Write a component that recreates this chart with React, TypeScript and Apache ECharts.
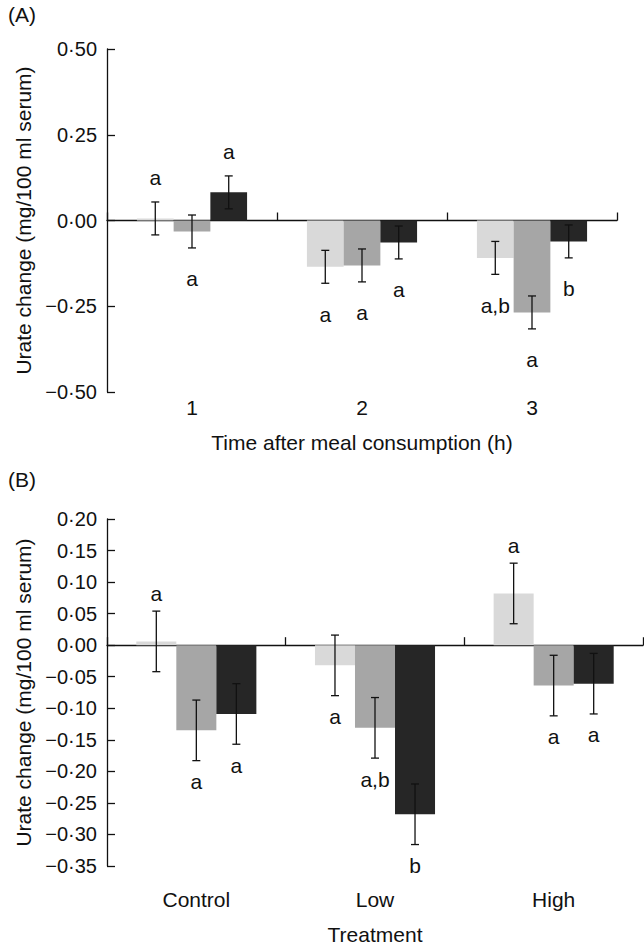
import React, { useEffect, useRef } from 'react';
import * as echarts from 'echarts';

// Categories
const timeCategories = ['1', '2', '3'];
const treatmentCategories = ['Control', 'Low', 'High'];

// Mean urate change (mg/100 ml serum) by time after meal (1 h, 2 h, 3 h)
const controlMeans = [0.006, -0.135, -0.109];
const lowMeans = [-0.032, -0.131, -0.268];
const highMeans = [0.082, -0.064, -0.061];

// Standard errors by time
const controlSem = [0.048, 0.048, 0.048];
const lowSem = [0.048, 0.048, 0.048];
const highSem = [0.048, 0.048, 0.048];

// Panel A significance letters (treatment series across time)
const lettersAControl = ['a', 'a', 'a,b'];
const lettersALow = ['a', 'a', 'a'];
const lettersAHigh = ['a', 'a', 'b'];

// Panel B significance letters (time series across treatments)
const lettersB1h = ['a', 'a', 'a'];
const lettersB2h = ['a', 'a,b', 'a'];
const lettersB3h = ['a', 'b', 'a'];

// Y axis ticks
const yTicksA = { min: -0.5, max: 0.5, interval: 0.25 };
const yTicksB = { min: -0.35, max: 0.2, interval: 0.05 };

const COLORS = ['#d9d9d9', '#a6a6a6', '#262626'];
const FONT = '"Liberation Sans", Arial, Helvetica, sans-serif';
const INK = '#111111';
const FS = 21;

function fmt(v: number) {
  const s = Math.abs(v).toFixed(2).replace('.', '\u00b7');
  return (v < -1e-9 ? '\u2212' : '') + s;
}

type Item = { cat: number; s: number; mean: number; err: number; letter: string };

function buildPanel(
  seriesMeans: number[][],
  seriesErr: number[][],
  seriesLetters: string[][],
  xZero: number,
  yIdx: number,
  barPct: number,
  offUp: number,
  offDown: number
) {
  const out: any[] = [];
  const items: Item[] = [];
  seriesMeans.forEach((m, s) => {
    out.push({
      type: 'bar',
      xAxisIndex: xZero,
      yAxisIndex: yIdx,
      data: m,
      barWidth: barPct + '%',
      barGap: '0%',
      itemStyle: { color: COLORS[s] },
      silent: true,
      z: 2,
    });
    m.forEach((v, c) => {
      items.push({ cat: c, s, mean: v, err: seriesErr[s][c], letter: seriesLetters[s][c] });
    });
  });
  out.push({
    type: 'custom',
    xAxisIndex: xZero,
    yAxisIndex: yIdx,
    silent: true,
    z: 5,
    encode: { x: 0, y: 1 },
    data: items.map((d) => [d.cat, d.mean]),
    renderItem: (params: any, api: any) => {
      const d = items[params.dataIndex];
      const band = api.size([1, 0])[0];
      const bw = (band * barPct) / 100;
      const cx = api.coord([d.cat, 0])[0] + (d.s - 1) * bw;
      const yTop = api.coord([d.cat, d.mean + d.err])[1];
      const yBot = api.coord([d.cat, d.mean - d.err])[1];
      const cap = 4;
      const ly = d.mean >= 0 ? yTop - offUp : yBot + offDown;
      const ls = { stroke: INK, lineWidth: 1.3 };
      return {
        type: 'group',
        children: [
          { type: 'line', shape: { x1: cx, y1: yTop, x2: cx, y2: yBot }, style: ls },
          { type: 'line', shape: { x1: cx - cap, y1: yTop, x2: cx + cap, y2: yTop }, style: ls },
          { type: 'line', shape: { x1: cx - cap, y1: yBot, x2: cx + cap, y2: yBot }, style: ls },
          {
            type: 'text',
            style: {
              text: d.letter,
              x: cx,
              y: ly,
              align: 'center',
              verticalAlign: 'middle',
              textAlign: 'center',
              textVerticalAlign: 'middle',
              fontSize: FS,
              fontFamily: FONT,
              fill: INK,
            },
          },
        ],
      };
    },
  });
  return out;
}

export default function App() {
  const ref = useRef<HTMLDivElement>(null);

  useEffect(() => {
    if (!ref.current) return;
    const chart = echarts.init(ref.current, undefined, { renderer: 'svg' });

    const axisLine = { lineStyle: { color: INK, width: 1.3 } };
    const zeroXAxis = (gridIndex: number, data: string[]) => ({
      type: 'category',
      gridIndex,
      data,
      position: 'bottom',
      axisLine: { show: true, onZero: true, ...axisLine },
      axisTick: { show: true, inside: true, length: 8, lineStyle: { color: INK, width: 1.3 } },
      axisLabel: { show: false },
      splitLine: { show: false },
    });
    const labelXAxis = (gridIndex: number, data: string[], name: string, margin: number, nameGap: number) => ({
      type: 'category',
      gridIndex,
      data,
      position: 'bottom',
      axisLine: { show: false, onZero: false },
      axisTick: { show: false },
      axisLabel: { show: true, margin, fontSize: FS, color: INK, fontFamily: FONT },
      name,
      nameLocation: 'middle',
      nameGap,
      nameTextStyle: { fontSize: FS, color: INK, fontFamily: FONT },
      splitLine: { show: false },
    });
    const yAxis = (gridIndex: number, t: { min: number; max: number; interval: number }) => ({
      type: 'value',
      gridIndex,
      min: t.min,
      max: t.max,
      interval: t.interval,
      axisLine: { show: true, ...axisLine },
      axisTick: { show: true, inside: true, length: 8, lineStyle: { color: INK, width: 1.3 } },
      axisLabel: { margin: 10, fontSize: 20, color: INK, fontFamily: FONT, formatter: fmt },
      splitLine: { show: false },
      name: 'Urate change (mg/100 ml serum)',
      nameLocation: 'middle',
      nameGap: 71,
      nameTextStyle: { fontSize: FS, color: INK, fontFamily: FONT },
    });

    const seriesA = buildPanel(
      [controlMeans, lowMeans, highMeans],
      [controlSem, lowSem, highSem],
      [lettersAControl, lettersALow, lettersAHigh],
      0,
      0,
      21.6,
      24,
      31
    );

    const means = [controlMeans, lowMeans, highMeans];
    const sems = [controlSem, lowSem, highSem];
    const byTime = (arr: number[][], t: number) => arr.map((row) => row[t]);
    const seriesB = buildPanel(
      [byTime(means, 0), byTime(means, 1), byTime(means, 2)],
      [byTime(sems, 0), byTime(sems, 1), byTime(sems, 2)],
      [lettersB1h, lettersB2h, lettersB3h],
      2,
      1,
      22.4,
      18,
      21
    );

    chart.setOption({
      animation: false,
      textStyle: { fontFamily: FONT, color: INK },
      grid: [
        { left: 107, top: 49, width: 510, height: 343 },
        { left: 107, top: 519, width: 536, height: 347 },
      ],
      xAxis: [
        zeroXAxis(0, timeCategories),
        labelXAxis(0, timeCategories, 'Time after meal consumption (h)', 5, 40),
        zeroXAxis(1, treatmentCategories),
        labelXAxis(1, treatmentCategories, 'Treatment', 23, 58),
      ],
      yAxis: [yAxis(0, yTicksA), yAxis(1, yTicksB)],
      graphic: [
        { type: 'text', left: 8, top: 4, style: { text: '(A)', fontSize: FS, fontFamily: FONT, fill: INK } },
        { type: 'text', left: 8, top: 469, style: { text: '(B)', fontSize: FS, fontFamily: FONT, fill: INK } },
      ],
      series: [...seriesA, ...seriesB],
    });

    return () => chart.dispose();
  }, []);

  return (
    <div
      ref={ref}
      style={{ position: 'absolute', left: 0, top: 0, width: 644, height: 947, background: '#fff' }}
    />
  );
}
